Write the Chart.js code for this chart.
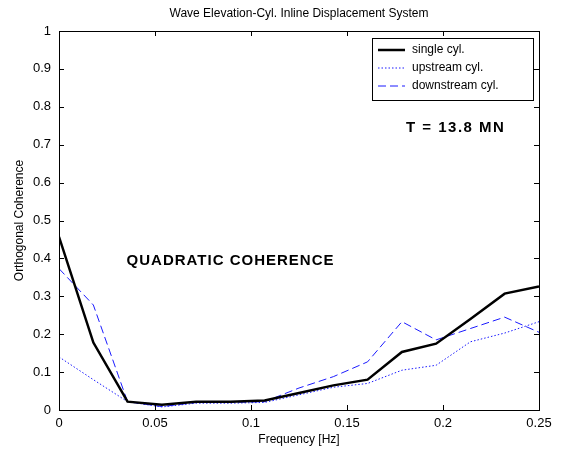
<!DOCTYPE html>
<html>
<head>
<meta charset="utf-8">
<script src="https://cdn.jsdelivr.net/npm/chart.js@4/dist/chart.umd.min.js"></script>
<style>
  html, body { margin: 0; padding: 0; background: #fff; }
  #wrap { width: 563px; height: 454px; }
</style>
</head>
<body>
<div id="wrap"><canvas id="cohChart" width="563" height="454"></canvas></div>
<script>
// frequency points (Hz)
const freq = [0, 0.0179, 0.0357, 0.0536, 0.0714, 0.0893, 0.1071, 0.125, 0.1429, 0.1607, 0.1786, 0.1964, 0.2143, 0.2321, 0.25];
const singleCyl = [0.457, 0.178, 0.022, 0.014, 0.022, 0.022, 0.025, 0.045, 0.065, 0.08, 0.153, 0.175, 0.24, 0.307, 0.326];
const upstreamCyl = [0.14, 0.08, 0.022, 0.008, 0.018, 0.018, 0.02, 0.04, 0.06, 0.07, 0.105, 0.118, 0.18, 0.203, 0.233];
const downstreamCyl = [0.373, 0.277, 0.022, 0.009, 0.02, 0.02, 0.022, 0.058, 0.088, 0.127, 0.233, 0.185, 0.215, 0.245, 0.205];
const xTicks = [0, 0.05, 0.1, 0.15, 0.2, 0.25];
const yTicks = [0, 0.1, 0.2, 0.3, 0.4, 0.5, 0.6, 0.7, 0.8, 0.9, 1];

const FONT = 'Arial, "Liberation Sans", sans-serif';

function pts(ys) {
    return freq.map((f, i) => ({ x: f, y: ys[i] }));
}

// box, inward ticks, labels, legend, text notes (matlab look)
const matlabDecor = {
    id: 'matlabDecor',
    afterDraw(chart) {
        const ctx = chart.ctx;
        const a = chart.chartArea;
        const xs = chart.scales.x, ys = chart.scales.y;
        ctx.save();
        ctx.strokeStyle = '#000';
        ctx.lineWidth = 1;
        ctx.strokeRect(Math.round(a.left) + 0.5, Math.round(a.top) + 0.5, Math.round(a.width), Math.round(a.height));

        // inward ticks on all four sides
        ctx.beginPath();
        xTicks.forEach(v => {
            const px = Math.round(xs.getPixelForValue(v)) + 0.5;
            ctx.moveTo(px, a.bottom); ctx.lineTo(px, a.bottom - 5);
            ctx.moveTo(px, a.top); ctx.lineTo(px, a.top + 5);
        });
        yTicks.forEach(v => {
            const py = Math.round(ys.getPixelForValue(v)) + 0.5;
            ctx.moveTo(a.left, py); ctx.lineTo(a.left + 5, py);
            ctx.moveTo(a.right, py); ctx.lineTo(a.right - 5, py);
        });
        ctx.stroke();

        // title + axis labels
        ctx.fillStyle = '#000';
        ctx.font = '12px ' + FONT;
        ctx.textAlign = 'center';
        ctx.textBaseline = 'middle';
        ctx.fillText('Wave Elevation-Cyl. Inline Displacement System', (a.left + a.right) / 2, 14);
        ctx.fillText('Frequency [Hz]', (a.left + a.right) / 2, 440);
        ctx.save();
        ctx.translate(20, (a.top + a.bottom) / 2);
        ctx.rotate(-Math.PI / 2);
        ctx.fillText('Orthogonal Coherence', 0, 0);
        ctx.restore();

        // notes inside the axes
        ctx.font = 'bold 15px ' + FONT;
        ctx.textAlign = 'left';
        ctx.letterSpacing = '1px';
        ctx.fillText('QUADRATIC COHERENCE', xs.getPixelForValue(0.0352), ys.getPixelForValue(0.394));
        ctx.letterSpacing = '1.5px';
        ctx.fillText('T = 13.8 MN', xs.getPixelForValue(0.1807), ys.getPixelForValue(0.745));
        ctx.letterSpacing = '0px';

        // legend
        const lx = 372, ly = 38, lw = 161, lh = 62;
        ctx.fillStyle = '#fff';
        ctx.fillRect(lx, ly, lw, lh);
        ctx.strokeRect(lx + 0.5, ly + 0.5, lw, lh);
        ctx.font = '12px ' + FONT;
        chart.data.datasets.forEach((ds, i) => {
            const yy = ly + 12 + i * 18;
            ctx.beginPath();
            ctx.strokeStyle = ds.borderColor;
            ctx.lineWidth = ds.borderWidth;
            ctx.setLineDash(ds.borderDash || []);
            ctx.moveTo(lx + 6, yy);
            ctx.lineTo(lx + 33, yy);
            ctx.stroke();
            ctx.setLineDash([]);
            ctx.fillStyle = '#000';
            ctx.fillText(ds.label, lx + 40, yy);
        });
        ctx.restore();
    }
};

const ctx = document.getElementById('cohChart').getContext('2d');
new Chart(ctx, {
    type: 'line',
    data: {
        datasets: [{
            label: 'single cyl.',
            data: pts(singleCyl),
            borderColor: '#000000',
            borderWidth: 2.5,
            pointRadius: 0,
            tension: 0
        }, {
            label: 'upstream cyl.',
            data: pts(upstreamCyl),
            borderColor: '#1a1aff',
            borderWidth: 1,
            borderDash: [1.5, 2],
            pointRadius: 0,
            tension: 0
        }, {
            label: 'downstream cyl.',
            data: pts(downstreamCyl),
            borderColor: '#1a1aff',
            borderWidth: 1,
            borderDash: [8, 4],
            pointRadius: 0,
            tension: 0
        }]
    },
    options: {
        responsive: false,
        animation: false,
        layout: { padding: { top: 31, right: 24, left: 0, bottom: 0 } },
        plugins: {
            legend: { display: false },
            tooltip: { enabled: false }
        },
        scales: {
            x: {
                type: 'linear',
                min: 0,
                max: 0.25,
                afterFit: s => { s.height = 44; },
                afterBuildTicks: s => { s.ticks = xTicks.map(v => ({ value: v })); },
                grid: { display: false, drawTicks: false },
                border: { display: false },
                ticks: {
                    color: '#000',
                    padding: 6,
                    maxRotation: 0,
                    font: { family: FONT, size: 13 },
                    callback: v => String(Number(v.toFixed(2)))
                }
            },
            y: {
                min: 0,
                max: 1,
                afterFit: s => { s.width = 59; },
                afterBuildTicks: s => { s.ticks = yTicks.map(v => ({ value: v })); },
                grid: { display: false, drawTicks: false },
                border: { display: false },
                ticks: {
                    color: '#000',
                    padding: 8,
                    font: { family: FONT, size: 13 },
                    callback: v => String(Number(v.toFixed(1)))
                }
            }
        }
    },
    plugins: [matlabDecor]
});
</script>
</body>
</html>
